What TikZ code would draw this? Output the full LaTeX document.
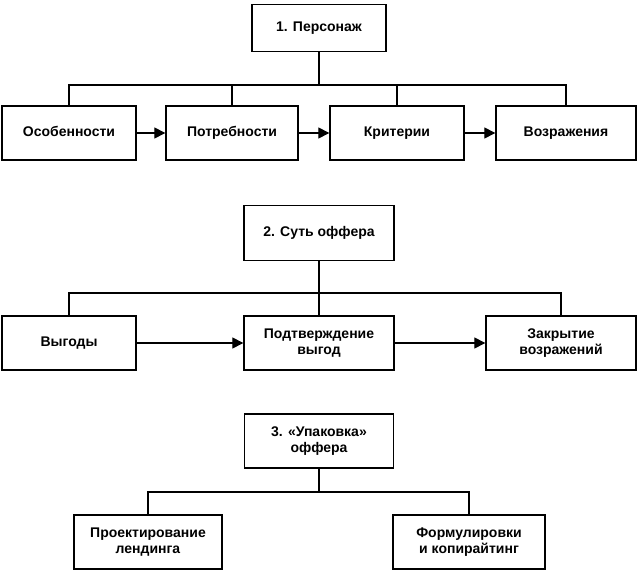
\documentclass[tikz,border=0pt]{standalone}
\usepackage{fontspec}
\setmainfont{Liberation Sans}
\usetikzlibrary{arrows.meta}
\begin{document}
\begin{tikzpicture}[x=1pt,y=-1pt,
 box/.style={draw,line width=1.3pt,minimum height=54pt,align=center,font=\bfseries\fontsize{14}{16}\selectfont,inner sep=2pt},
 one/.style={text height=10pt,text depth=3pt},
 ln/.style={line width=1.1pt},
 ar/.style={ln,-{Triangle[length=11pt,width=11pt]}}]
\useasboundingbox (0,0) rectangle (640,572);
\node[box,one,minimum width=134pt,minimum height=47pt] (p) at (319,28) {1. Персонаж};
\node[box,one,minimum width=134pt] (a1) at (69,133) {Особенности};
\node[box,one,minimum width=132pt] (a2) at (232,133) {Потребности};
\node[box,one,minimum width=134pt] (a3) at (397,133) {Критерии};
\node[box,one,minimum width=140pt] (a4) at (566,133) {Возражения};
\coordinate (b1) at (319,85);
\draw[ln] (p.south) -- (b1);
\draw[ln] (a1.north) |- (b1) -| (a4.north);
\foreach \n in {a2,a3} \draw[ln] (\n.north) -- (\n.north |- b1);
\draw[ar] (a1) -- (a2);
\draw[ar] (a2) -- (a3);
\draw[ar] (a3) -- (a4);

\node[box,one,minimum width=150pt,minimum height=55pt] (s) at (319,233) {2. Суть оффера};
\node[box,one,minimum width=134pt] (c1) at (69,343) {Выгоды};
\node[box,minimum width=150pt] (c2) at (319,343) {Подтверждение\\выгод};
\node[box,minimum width=150pt] (c3) at (561,343) {Закрытие\\возражений};
\coordinate (b2) at (319,293);
\draw[ln] (s.south) -- (c2.north);
\draw[ln] (c1.north) |- (b2) -| (c3.north);
\draw[ar] (c1) -- (c2);
\draw[ar] (c2) -- (c3);

\node[box,minimum width=149pt] (u) at (319,441) {3. «Упаковка»\\оффера};
\node[box,minimum width=148pt] (d1) at (148,542) {Проектирование\\лендинга};
\node[box,minimum width=152pt] (d2) at (469,542) {Формулировки\\и копирайтинг};
\coordinate (b3) at (319,492);
\draw[ln] (u.south) -- (b3);
\draw[ln] (d1.north) |- (b3) -| (d2.north);
\end{tikzpicture}
\end{document}
